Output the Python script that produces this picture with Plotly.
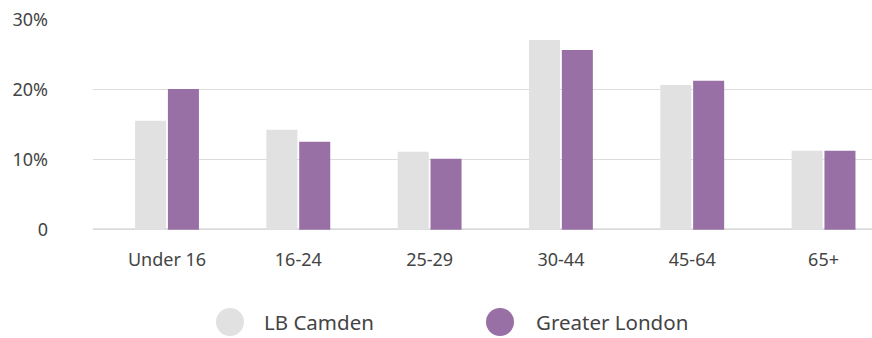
import plotly.graph_objects as go

categories = ["Under 16", "16-24", "25-29", "30-44", "45-64", "65+"]
camden = [15.6, 14.3, 11.15, 27.15, 20.7, 11.3]
london = [20.15, 12.6, 10.15, 25.7, 21.3, 11.3]
series_names = ["LB Camden", "Greater London"]
colors = ["#e0e1e0", "#9870a6"]
y_ticks = [0, 10, 20, 30]
y_tick_labels = ["0", "10%", "20%", "30%"]

FONT = "Noto Sans, Open Sans, sans-serif"
TXT = "#444444"

fig = go.Figure()
for name, vals, col in zip(series_names, [camden, london], colors):
    fig.add_trace(go.Bar(x=categories, y=vals, name=name, marker_color=col,
                         marker_line_width=0, showlegend=False))

# plot area: x 93..872, y 20..230 in px
W, H = 872, 338
L, R, T, B = 93, 0, 20, 108
pw, ph = W - L - R, H - T - B

# legend drawn manually with circles + text
legend_items = [(230, 262), (500, 534)]
for (cx, tx), name, col in zip(legend_items, series_names, colors):
    xp = (cx - L) / pw
    yp = (H - B - 322) / ph
    fig.add_shape(type="circle", xref="paper", yref="paper",
                  xsizemode="pixel", ysizemode="pixel",
                  xanchor=xp, yanchor=yp, x0=-14, x1=14, y0=-14, y1=14,
                  fillcolor=col, line_width=0)
    fig.add_annotation(text=name, xref="paper", yref="paper",
                       x=(tx - L) / pw, y=yp, xanchor="left", yanchor="middle",
                       showarrow=False, font=dict(family=FONT, size=20.5, color=TXT))

# baseline
fig.add_shape(type="line", xref="paper", yref="y", x0=0, x1=1, y0=0, y1=0,
              line=dict(color="#dadada", width=3), layer="below")

fig.update_layout(
    width=W, height=H,
    margin=dict(l=L, r=R, t=T, b=B, pad=0),
    plot_bgcolor="white", paper_bgcolor="white",
    bargap=0.5, bargroupgap=0.055,
    font=dict(family=FONT, size=18, color=TXT),
    xaxis=dict(range=[-0.5636, 5.369], showgrid=False, zeroline=False,
               showline=False, ticks="", ticklabelstandoff=17,
               tickfont=dict(size=18, color=TXT)),
    yaxis=dict(range=[-0.02, 30], tickvals=y_ticks, ticktext=y_tick_labels,
               showgrid=True, gridcolor="#dcdcdc", gridwidth=1.3,
               zeroline=False, showline=False, ticks="",
               ticklabelstandoff=44, tickfont=dict(size=18, color=TXT)),
)

fig.write_html("out.html")
